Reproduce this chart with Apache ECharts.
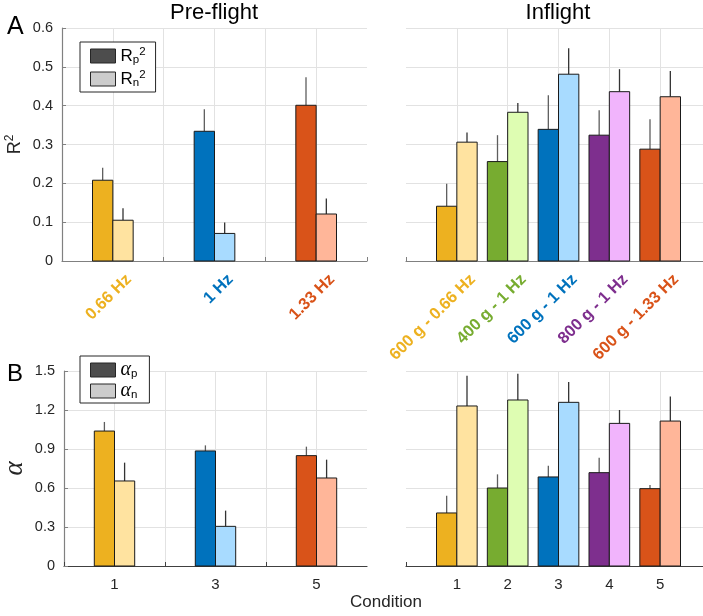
<!DOCTYPE html>
<html>
<head>
<meta charset="utf-8">
<script src="https://cdn.jsdelivr.net/npm/echarts@6/dist/echarts.min.js"></script>
<style>
  html, body { margin: 0; padding: 0; background: #fff; }
  #chart { width: 703px; height: 616px; }
</style>
</head>
<body>
<div id="chart"></div>
<script>
// Condition colours: saturated for the positive fit, pale for the negative fit
const darkColors  = ['#EDB120', '#77AC30', '#0072BD', '#7E2F8E', '#D95319'];
const lightColors = ['#FFE3A0', '#DEFDB2', '#A8DBFF', '#F1B4FC', '#FFB699'];

// Pre-flight conditions
const preX = [1, 3, 5];
const preColorIdx = [0, 2, 4];
const preLabels = ['0.66 Hz', '1 Hz', '1.33 Hz'];
const preTickLabels = ['1', '3', '5'];

// Inflight conditions
const inX = [1, 2, 3, 4, 5];
const inColorIdx = [0, 1, 2, 3, 4];
const inLabels = ['600 g - 0.66 Hz', '400 g - 1 Hz', '600 g - 1 Hz', '800 g - 1 Hz', '600 g - 1.33 Hz'];
const inTickLabels = ['1', '2', '3', '4', '5'];

// Panel A: R^2 (mean and upper error)
const preR2p    = [0.208, 0.334, 0.401];
const preR2pErr = [0.032, 0.057, 0.072];
const preR2n    = [0.105, 0.071, 0.121];
const preR2nErr = [0.031, 0.028, 0.040];
const inR2p     = [0.141, 0.256, 0.339, 0.324, 0.288];
const inR2pErr  = [0.058, 0.068, 0.088, 0.064, 0.077];
const inR2n     = [0.306, 0.383, 0.481, 0.436, 0.423];
const inR2nErr  = [0.025, 0.024, 0.067, 0.058, 0.066];

// Panel B: alpha (mean and upper error)
const preAp    = [1.038, 0.885, 0.849];
const preApErr = [0.070, 0.043, 0.069];
const preAn    = [0.654, 0.305, 0.677];
const preAnErr = [0.141, 0.121, 0.141];
const inAp     = [0.408, 0.600, 0.685, 0.718, 0.595];
const inApErr  = [0.133, 0.105, 0.087, 0.115, 0.028];
const inAn     = [1.231, 1.277, 1.259, 1.097, 1.115];
const inAnErr  = [0.233, 0.202, 0.156, 0.103, 0.188];

const FONT = "'Liberation Sans', Arial, Helvetica, sans-serif";
const SERIF = "'Liberation Serif', 'DejaVu Serif', serif";
const TICK_COLOR = '#262626';
const AXIS_GRAY = '#808080';
const GRID_GRAY = '#e2e2e2';

const BAR_HALF = 0.2;

// Layout: both panels share one x scale (0..6 over ~305 px); the right panel runs off the page edge
const CHART_W = 703;
const LEFT_L = 62, LEFT_W = 305;
const RIGHT_L = 406;
const UNIT_PX = LEFT_W / 6;
const LABEL_SHIFT = 16;
const rightMax = (CHART_W - RIGHT_L) / UNIT_PX;
const rightLabelMax = (CHART_W - RIGHT_L - LABEL_SHIFT) / UNIT_PX;

function rows(xs, vals, errs, cidx) {
  return xs.map((x, i) => [x, vals[i], errs[i], cidx[i]]);
}

// Bar with a one-sided (upward) error whisker
function barRenderer(offset, palette, whiskerColor) {
  return function (params, api) {
    const x = api.value(0) + offset;
    const y = api.value(1);
    const e = api.value(2);
    const c = api.value(3);
    const tl = api.coord([x - BAR_HALF, y]);
    const br = api.coord([x + BAR_HALF, 0]);
    const top = api.coord([x, y]);
    const tip = api.coord([x, y + e]);
    return {
      type: 'group',
      children: [
        { type: 'line', shape: { x1: top[0], y1: top[1], x2: tip[0], y2: tip[1] },
          style: { stroke: whiskerColor, lineWidth: 1.3 } },
        { type: 'rect', shape: { x: tl[0], y: tl[1], width: br[0] - tl[0], height: br[1] - tl[1] },
          style: { fill: palette[c], stroke: '#1a1a1a', lineWidth: 1 } }
      ]
    };
  };
}

function barSeries(name, xi, yi, data, offset, palette, whisker, legendColor) {
  return {
    type: 'custom', name: name, xAxisIndex: xi, yAxisIndex: yi,
    dimensions: ['x', 'y', 'err', 'c'],
    encode: { x: 0, y: 1 },
    itemStyle: { color: legendColor },
    renderItem: barRenderer(offset, palette, whisker),
    data: data
  };
}

function valueXAxis(grid, max, lineColor, labelFn) {
  return {
    type: 'value', gridIndex: grid, min: 0, max: max, interval: 1,
    axisLine: { show: true, onZero: false, lineStyle: { color: lineColor, width: 1.2 } },
    axisTick: { show: true, inside: true, length: 4, lineStyle: { color: lineColor } },
    splitLine: { show: true, showMinLine: false, showMaxLine: false, lineStyle: { color: GRID_GRAY, width: 1 } },
    axisLabel: labelFn ? { show: true, margin: 11, fontSize: 15, color: TICK_COLOR, fontFamily: FONT,
                           showMaxLabel: false, formatter: labelFn }
                       : { show: false }
  };
}

function labelXAxis(grid, max, xs, labels, cidx) {
  const rich = {};
  darkColors.forEach((col, i) => {
    rich['c' + i] = { color: col, fontWeight: 'bold', fontSize: 16.5, fontFamily: FONT };
  });
  return {
    type: 'value', gridIndex: grid, min: 0, max: max, interval: 1,
    axisLine: { show: false }, axisTick: { show: false }, splitLine: { show: false },
    axisLabel: {
      show: true, rotate: 45, margin: 16, rich: rich, showMaxLabel: false,
      formatter: v => {
        const i = xs.indexOf(v);
        return i < 0 ? '' : '{c' + cidx[i] + '|' + labels[i] + '}';
      }
    }
  };
}

function leftYAxis(grid, max, interval, name, nameStyle) {
  return {
    type: 'value', gridIndex: grid, min: 0, max: max, interval: interval,
    axisLine: { show: true, lineStyle: { color: AXIS_GRAY, width: 1.2 } },
    axisTick: { show: true, inside: true, length: 4, lineStyle: { color: AXIS_GRAY } },
    splitLine: { show: true, lineStyle: { color: GRID_GRAY, width: 1 } },
    axisLabel: { show: true, margin: 9, fontSize: 14.5, color: TICK_COLOR, fontFamily: FONT },
    name: name, nameLocation: 'middle', nameRotate: 90, nameGap: 36,
    nameTextStyle: nameStyle
  };
}

function rightYAxis(grid, max, interval) {
  return {
    type: 'value', gridIndex: grid, min: 0, max: max, interval: interval,
    axisLine: { show: false }, axisTick: { show: false }, axisLabel: { show: false },
    splitLine: { show: true, lineStyle: { color: GRID_GRAY, width: 1 } }
  };
}

function hiddenYAxis(grid) {
  return { type: 'value', gridIndex: grid, min: 0, max: 1, show: false };
}

const legendText = {
  'Rp2': '{m|R}{sub|p}{sup|2}',
  'Rn2': '{m|R}{sub|n}{sup|2}',
  'ap': '{a|α}{sub|p}',
  'an': '{a|α}{sub|n}'
};

function legendBox(top, names, padding, gap) {
  return {
    left: 80, top: top, orient: 'vertical', selectedMode: false,
    padding: padding, itemWidth: 25, itemHeight: 14, itemGap: gap,
    borderColor: '#262626', borderWidth: 1, backgroundColor: '#fff',
    data: [
      { name: names[0], icon: 'rect', itemStyle: { color: '#4d4d4d', borderColor: '#262626', borderWidth: 1 } },
      { name: names[1], icon: 'rect', itemStyle: { color: '#cccccc', borderColor: '#262626', borderWidth: 1 } }
    ],
    formatter: n => legendText[n],
    textStyle: {
      color: '#000',
      rich: {
        m: { fontSize: 17, lineHeight: 20, fontFamily: FONT, color: '#000' },
        a: { fontSize: 20, lineHeight: 20, fontFamily: SERIF, fontStyle: 'italic', color: '#000' },
        sub: { fontSize: 11.5, lineHeight: 9, verticalAlign: 'bottom', fontFamily: FONT, color: '#000' },
        sup: { fontSize: 11.5, lineHeight: 9, verticalAlign: 'top', fontFamily: FONT, color: '#000' }
      }
    }
  };
}

const option = {
  animation: false,
  backgroundColor: '#fff',
  title: [
    { text: 'Pre-flight', left: 214, top: 2, textAlign: 'center', padding: 0,
      textStyle: { fontSize: 22, fontWeight: 'normal', color: '#000', fontFamily: FONT } },
    { text: 'Inflight', left: 558, top: 2, textAlign: 'center', padding: 0,
      textStyle: { fontSize: 22, fontWeight: 'normal', color: '#000', fontFamily: FONT } },
    { text: 'A', left: 7, top: 15, padding: 0,
      textStyle: { fontSize: 25, fontWeight: 'normal', color: '#000', fontFamily: FONT } },
    { text: 'B', left: 7, top: 362, padding: 0,
      textStyle: { fontSize: 24, fontWeight: 'normal', color: '#000', fontFamily: FONT } },
    { text: 'Condition', left: 386, top: 594, textAlign: 'center', padding: 0,
      textStyle: { fontSize: 17, fontWeight: 'normal', color: TICK_COLOR, fontFamily: FONT } }
  ],
  grid: [
    { left: LEFT_L,  top: 28,  width: LEFT_W, height: 233 },
    { left: RIGHT_L, top: 28,  right: 0, height: 233 },
    { left: LEFT_L,  top: 371, width: LEFT_W, height: 195 },
    { left: RIGHT_L, top: 371, right: 0, height: 195 },
    { left: LEFT_L + LABEL_SHIFT,  top: 28, width: LEFT_W, height: 233 },
    { left: RIGHT_L + LABEL_SHIFT, top: 28, right: 0, height: 233 }
  ],
  xAxis: [
    valueXAxis(0, 6, AXIS_GRAY, null),
    valueXAxis(1, rightMax, AXIS_GRAY, null),
    valueXAxis(2, 6, '#404040', v => { const i = preX.indexOf(v); return i < 0 ? '' : preTickLabels[i]; }),
    valueXAxis(3, rightMax, '#404040', v => { const i = inX.indexOf(v); return i < 0 ? '' : inTickLabels[i]; }),
    labelXAxis(4, 6, preX, preLabels, preColorIdx),
    labelXAxis(5, rightLabelMax, inX, inLabels, inColorIdx)
  ],
  yAxis: [
    leftYAxis(0, 0.6, 0.1, '{m|R}{sup|2}', {
      color: TICK_COLOR,
      rich: {
        m: { fontSize: 18, lineHeight: 22, fontFamily: FONT, color: TICK_COLOR },
        sup: { fontSize: 12, lineHeight: 10, verticalAlign: 'top', fontFamily: FONT, color: TICK_COLOR }
      }
    }),
    rightYAxis(1, 0.6, 0.1),
    leftYAxis(2, 1.5, 0.3, 'α', {
      color: TICK_COLOR, fontSize: 27, fontFamily: SERIF, fontStyle: 'italic'
    }),
    rightYAxis(3, 1.5, 0.3),
    hiddenYAxis(4),
    hiddenYAxis(5)
  ],
  legend: [
    legendBox(42, ['Rp2', 'Rn2'], [4, 10, 3, 10], 3),
    legendBox(356, ['ap', 'an'], [4, 12, 2, 10], 1)
  ],
  series: [
    barSeries('Rp2', 0, 0, rows(preX, preR2p, preR2pErr, preColorIdx), -BAR_HALF, darkColors, '#5e5e5e', '#4d4d4d'),
    barSeries('Rn2', 0, 0, rows(preX, preR2n, preR2nErr, preColorIdx), BAR_HALF, lightColors, '#333333', '#cccccc'),
    barSeries('Rp2', 1, 1, rows(inX, inR2p, inR2pErr, inColorIdx), -BAR_HALF, darkColors, '#5e5e5e', '#4d4d4d'),
    barSeries('Rn2', 1, 1, rows(inX, inR2n, inR2nErr, inColorIdx), BAR_HALF, lightColors, '#333333', '#cccccc'),
    barSeries('ap', 2, 2, rows(preX, preAp, preApErr, preColorIdx), -BAR_HALF, darkColors, '#5e5e5e', '#4d4d4d'),
    barSeries('an', 2, 2, rows(preX, preAn, preAnErr, preColorIdx), BAR_HALF, lightColors, '#333333', '#cccccc'),
    barSeries('ap', 3, 3, rows(inX, inAp, inApErr, inColorIdx), -BAR_HALF, darkColors, '#5e5e5e', '#4d4d4d'),
    barSeries('an', 3, 3, rows(inX, inAn, inAnErr, inColorIdx), BAR_HALF, lightColors, '#333333', '#cccccc')
  ]
};

const chart = echarts.init(document.getElementById('chart'), null, { renderer: 'canvas' });
chart.setOption(option);
</script>
</body>
</html>
